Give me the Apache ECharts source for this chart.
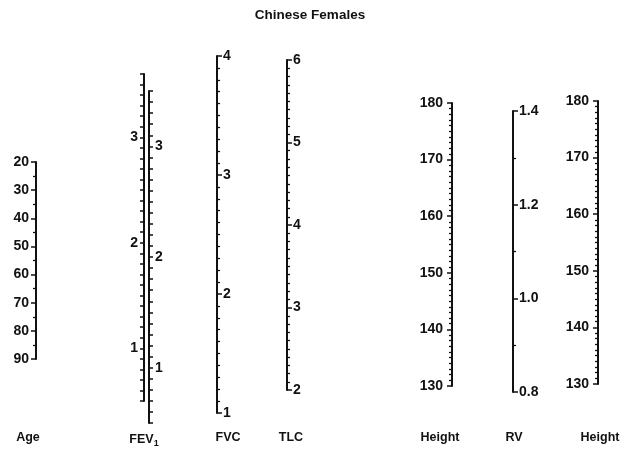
<!DOCTYPE html>
<html><head><meta charset="utf-8">
<script src="https://cdn.jsdelivr.net/npm/echarts@6/dist/echarts.min.js"></script>
<style>html,body{margin:0;background:#fff}#c{width:621px;height:455px}</style>
</head><body><div id="c"></div>
<script>
// ---- data: scales of the nomogram ----
const axisKeys   = ['Age', 'FEV1a', 'FEV1b', 'FVC', 'TLC', 'HeightL', 'RV', 'HeightR'];
const axisMin    = [20, 0.5, 0.5, 1, 2, 130, 0.8, 130];
const axisMax    = [90, 3.6, 3.5, 4, 6, 180, 1.4, 180];
const labelStep  = [10, 1, 1, 1, 1, 10, 0.2, 10];
const tickStep   = [5, 0.1, 0.1, 0.1, 0.1, 1, 0.1, 1];
const labelDecimals = [0, 0, 0, 0, 0, 0, 1, 0];
const axisInverse = [true, false, false, false, false, false, false, false];
const bottomTitles = ['Age', 'FEV{s|1}', 'FVC', 'TLC', 'Height', 'RV', 'Height'];
const chartTitle = 'Chinese Females';

// ---- layout ----
const axisX      = [36, 144, 150, 218, 288, 452, 514, 598];
const axisSide   = ['left', 'left', 'right', 'right', 'right', 'left', 'right', 'left'];
const axisTopPx  = [162, 74, 91, 56, 60, 103, 111, 101];
const axisBotPx  = [359, 401, 423, 413, 390, 386, 392, 384];
const labelGap   = [7, 6, 5, 5, 5, 9, 5, 9];
const titleX     = [28, 144, 228, 291, 440, 514, 600];
const titleY     = 431;

const FONT = 'Liberation Sans, Arial, sans-serif';
const INK = '#111';

const grids = [], xAxes = [], yAxes = [];
axisKeys.forEach((k, i) => {
  const right = axisSide[i] === 'right';
  grids.push({ left: right ? axisX[i] - 1 : axisX[i], width: 1,
               top: axisTopPx[i], height: axisBotPx[i] - axisTopPx[i], containLabel: false });
  xAxes.push({ gridIndex: i, type: 'value', show: false, min: 0, max: 1 });
  const minIsMultiple = Math.abs(axisMin[i] / labelStep[i] - Math.round(axisMin[i] / labelStep[i])) < 1e-6;
  const y = {
    gridIndex: i, type: 'value', position: axisSide[i],
    min: axisMin[i], max: axisMax[i], inverse: axisInverse[i],
    splitLine: { show: false },
    axisLine: { show: true, lineStyle: { color: INK, width: 2 } },
    axisLabel: { color: INK, fontSize: 14, fontWeight: 'bold', fontFamily: FONT, margin: labelGap[i] },
    axisTick: { show: true, inside: false, length: 5, lineStyle: { color: INK, width: 1.5 } }
  };
  if (minIsMultiple) {
    y.interval = labelStep[i];
    y.minorTick = { show: true, splitNumber: Math.round(labelStep[i] / tickStep[i]), length: 3,
                    lineStyle: { color: INK, width: 1.3 } };
    y.axisLabel.formatter = v => (+v).toFixed(labelDecimals[i]);
  } else {
    y.interval = tickStep[i];
    y.axisTick.length = 4;
    y.axisLabel.formatter = v => {
      const r = v / labelStep[i];
      return Math.abs(r - Math.round(r)) < 1e-6 ? (+v).toFixed(labelDecimals[i]) : '';
    };
  }
  yAxes.push(y);
});

const titles = [{ text: chartTitle, left: 310, top: 8, textAlign: 'center', padding: 0,
  textStyle: { fontSize: 13.5, fontWeight: 'bold', color: INK, fontFamily: FONT } }];
bottomTitles.forEach((t, i) => {
  titles.push({ text: t, left: titleX[i], top: titleY, textAlign: 'center', padding: 0,
    textStyle: { fontSize: 12.5, fontWeight: 'bold', color: INK, fontFamily: FONT,
      rich: { s: { fontSize: 9, fontWeight: 'bold', color: INK, fontFamily: FONT, padding: [8, 0, 0, 0] } } } });
});

const chart = echarts.init(document.getElementById('c'), null, { renderer: 'canvas' });
chart.setOption({
  animation: false,
  backgroundColor: '#fff',
  title: titles,
  grid: grids,
  xAxis: xAxes,
  yAxis: yAxes,
  series: []
});
</script>
</body></html>
